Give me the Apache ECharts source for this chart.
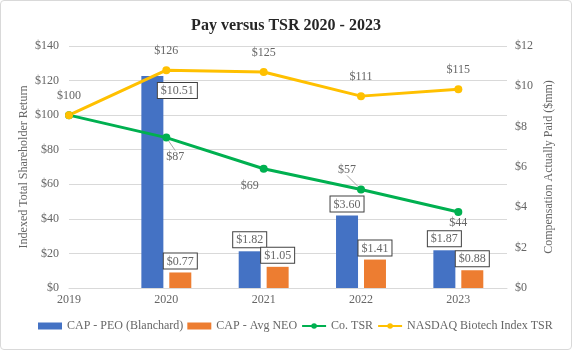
<!DOCTYPE html>
<html>
<head>
<meta charset="utf-8">
<script src="https://cdn.jsdelivr.net/npm/echarts@6/dist/echarts.min.js"></script>
<style>
  html, body { margin: 0; padding: 0; background: #fff; }
  #wrap { position: relative; width: 572px; height: 350px; }
  #chart { width: 572px; height: 350px; }
  #frame { position: absolute; left: 0; top: 0; width: 572px; height: 350px; box-sizing: border-box;
           border: 1px solid #d9d9d9; border-radius: 4px; pointer-events: none; }
</style>
</head>
<body>
<div id="wrap">
  <div id="chart"></div>
  <div id="frame"></div>
</div>
<script>
const years = [2019, 2020, 2021, 2022, 2023]
const capYears = [2020, 2021, 2022, 2023]
const capPeo = [10.51, 1.82, 3.60, 1.87]
const capNeo = [0.77, 1.05, 1.41, 0.88]
const coTsr = [100, 87, 69, 57, 44]
const nasdaqTsr = [100, 126, 125, 111, 115]

const font = 'Liberation Serif'
const gray = '#666666'

// label nudges for Co. TSR (dx, dy from point centre)
const greenNudge = [[0, 0], [9, 19], [-14, 17], [-14, -20], [0, 11]]

let myChart = echarts.init(document.getElementById('chart'))

const boxLabel = {
  show: true,
  position: 'top',
  distance: 4,
  color: gray,
  fontFamily: font,
  fontSize: 12,
  backgroundColor: '#fff',
  borderColor: '#404040',
  borderWidth: 1,
  padding: [2, 3, 1, 3],
  formatter: p => '$' + p.value[1].toFixed(2)
}

myChart.setOption({
  animation: false,
  textStyle: { fontFamily: font },
  title: {
    text: 'Pay versus TSR 2020 - 2023',
    left: 'center',
    top: 13,
    textStyle: { fontFamily: font, fontSize: 16, fontWeight: 'bold', color: '#262626' }
  },
  legend: {
    bottom: 13,
    left: 33,
    itemGap: 4,
    itemWidth: 24,
    itemHeight: 7,
    textStyle: { fontFamily: font, fontSize: 12, color: gray },
    data: [
      { name: 'CAP - PEO (Blanchard)', icon: 'rect' },
      { name: 'CAP - Avg NEO', icon: 'rect' },
      { name: 'Co. TSR' },
      { name: 'NASDAQ Biotech Index TSR' }
    ]
  },
  grid: { left: 69, right: 65, top: 46, bottom: 62 },
  xAxis: {
    type: 'value',
    min: 2019,
    max: 2023.5,
    interval: 1,
    axisLine: { show: true, lineStyle: { color: '#d9d9d9' } },
    axisTick: { show: false },
    splitLine: { show: false },
    axisLabel: {
      color: gray, fontFamily: font, fontSize: 12, margin: 6,
      formatter: v => Number.isInteger(v) ? String(v) : ''
    }
  },
  yAxis: [
    {
      type: 'value',
      min: 0, max: 140, interval: 20,
      name: 'Indexed Total Shareholder Return',
      nameLocation: 'middle',
      nameRotate: 90,
      nameGap: 39,
      nameMoveOverlap: false,
      nameTextStyle: { color: gray, fontFamily: font, fontSize: 12 },
      axisLine: { show: false },
      axisTick: { show: false },
      splitLine: { lineStyle: { color: '#d9d9d9' } },
      axisLabel: { color: gray, fontFamily: font, fontSize: 12, margin: 10, formatter: '${value}' }
    },
    {
      type: 'value',
      min: 0, max: 12, interval: 2,
      name: 'Compensation Actually Paid ($mm)',
      nameLocation: 'middle',
      nameRotate: 90,
      nameGap: 36,
      nameMoveOverlap: false,
      nameTextStyle: { color: gray, fontFamily: font, fontSize: 12 },
      axisLine: { show: false },
      axisTick: { show: false },
      splitLine: { show: false },
      axisLabel: { color: gray, fontFamily: font, fontSize: 12, margin: 8, formatter: '${value}' }
    }
  ],
  series: [
    {
      name: 'CAP - PEO (Blanchard)',
      type: 'bar',
      yAxisIndex: 1,
      barWidth: 22,
      barGap: '27%',
      itemStyle: { color: '#4472C4' },
      label: boxLabel,
      data: capPeo.map((v, i) => i === 0
        ? { value: [capYears[i], v], label: { offset: [25, 26] } }
        : { value: [capYears[i], v] })
    },
    {
      name: 'CAP - Avg NEO',
      type: 'bar',
      yAxisIndex: 1,
      barWidth: 22,
      barGap: '27%',
      itemStyle: { color: '#ED7D31' },
      label: boxLabel,
      data: capNeo.map((v, i) => [capYears[i], v])
    },
    {
      name: 'Co. TSR',
      type: 'line',
      yAxisIndex: 0,
      symbol: 'circle',
      symbolSize: 8,
      lineStyle: { width: 3, color: '#00B050' },
      itemStyle: { color: '#00B050' },
      label: {
        show: true,
        position: 'inside',
        color: gray,
        fontFamily: font,
        fontSize: 12,
        formatter: p => '$' + p.value[1]
      },
      labelLine: { show: false },
      labelLayout: p => {
        const r = p.rect
        const d = greenNudge[p.dataIndex]
        return { x: r.x + r.width / 2 + d[0], y: r.y + r.height / 2 + d[1], align: 'center', verticalAlign: 'middle' }
      },
      data: coTsr.map((v, i) => ({
        value: [years[i], v],
        label: { show: i > 0 },
        labelLine: { show: i === 1 || i === 3, lineStyle: { color: '#a6a6a6', width: 1 } }
      }))
    },
    {
      name: 'NASDAQ Biotech Index TSR',
      type: 'line',
      yAxisIndex: 0,
      symbol: 'circle',
      symbolSize: 8,
      lineStyle: { width: 3, color: '#FFC000' },
      itemStyle: { color: '#FFC000' },
      label: {
        show: true,
        position: 'top',
        distance: 9,
        color: gray,
        fontFamily: font,
        fontSize: 12,
        formatter: p => '$' + p.value[1]
      },
      data: nasdaqTsr.map((v, i) => [years[i], v])
    }
  ]
})
</script>
</body>
</html>
